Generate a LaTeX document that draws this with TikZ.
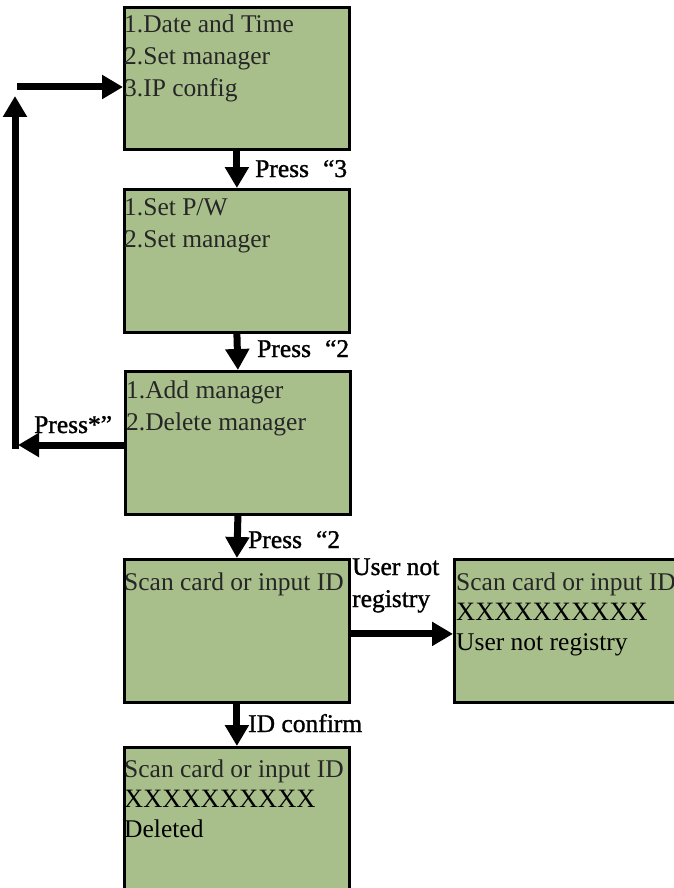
\documentclass[tikz,border=0pt]{standalone}
\usepackage{fontspec}
\setmainfont{Liberation Serif}
\newfontfamily\tagfont[FakeBold=1.2]{Liberation Serif}
\usetikzlibrary{arrows.meta, calc}
\definecolor{lcdgreen}{RGB}{169,191,139}

\begin{document}
\begin{tikzpicture}[x=1pt, y=-1pt,
		screen/.style={draw, line width=2.8pt, fill=lcdgreen, anchor=north west, inner sep=0pt, minimum width=\w pt, minimum height=\h pt},
		lcd/.style={anchor=base west, inner sep=0pt, text=black!85, font=\fontsize{25.5}{30}\selectfont},
		tag/.style={anchor=base west, inner sep=0pt, font=\tagfont\fontsize{25.5}{30}\selectfont},
		bigarrow/.style={line width=7pt, -{Triangle[length=21pt, width=23pt]}}]
			\def\w{225};
			\def\h{143};

			\useasboundingbox (0,0) rectangle (674,888);

			\begin{scope}
				\node [screen, minimum height=142pt] (s1) at (123,6) {};
				\node [screen] (s2) at (123,188) {};
				\node [screen] (s3) at (124,370) {};
				\node [screen] (s4) at (123,558) {};
				\node [screen, minimum height=170pt] (s5) at (123,746) {};
				\node [screen, minimum width=240pt] (s6) at (453,558) {};
			\end{scope}

			\begin{scope}
				\node [lcd] (m1a) at (124,33) {1.Date and Time};
				\node [lcd] (m1b) at (124,65) {2.Set manager};
				\node [lcd] (m1c) at (124,97) {3.IP config};

				\node [lcd] (m2a) at (124,215) {1.Set P/W};
				\node [lcd] (m2b) at (124,247) {2.Set manager};

				\node [lcd] (m3a) at (126,398) {1.Add manager};
				\node [lcd] (m3b) at (126,430) {2.Delete manager};

				\node [lcd] (m4a) at (124,590) {Scan card or input ID};

				\node [lcd] (m5a) at (124,777) {Scan card or input ID};
				\node [lcd, text=black, font=\fontsize{26.5}{30}\selectfont] (m5b) at (124,807) {XXXXXXXXXX};
				\node [lcd, text=black] (m5c) at (124,837) {Deleted};

				\node [lcd] (m6a) at (456,590) {Scan card or input ID};
				\node [lcd, text=black, font=\fontsize{26.5}{30}\selectfont] (m6b) at (456,620) {XXXXXXXXXX};
				\node [lcd, text=black] (m6c) at (456,650) {User not registry};
			\end{scope}

			\begin{scope}[bigarrow]
				\draw (s1.south) -- (s2.north);
				\draw (s2.south) -- (s3.north);
				\draw (s3.south) -- (s4.north);
				\draw (s4.south) -- (s5.north);
				\draw ([yshift=-3pt]s4.east) -- ([yshift=-3pt]s6.west);

				\coordinate (back) at (18,445);
				\coordinate (corner) at (15,448.5);
				\coordinate (up) at (15,96);
				\coordinate (entry) at (17,87);
				\draw (s3.west |- back) -- (back);
				\draw (corner) -- (up);
				\draw (entry) -- (s1.west |- entry);
			\end{scope}

			\begin{scope}
				\node [tag] (p3) at (255,177) {Press\hspace{0.55em}“3};
				\node [tag] (p2) at (257,357) {Press\hspace{0.55em}“2};
				\node [tag] (pdel) at (248,548) {Press\hspace{0.55em}“2};
				\node [tag] (pstar) at (34,433) {Press*”};
				\node [tag] (nreg1) at (352,575) {User not};
				\node [tag] (nreg2) at (352,607) {registry};
				\node [tag] (conf) at (248,732) {ID confirm};
			\end{scope}
		\end{tikzpicture}
\end{document}
